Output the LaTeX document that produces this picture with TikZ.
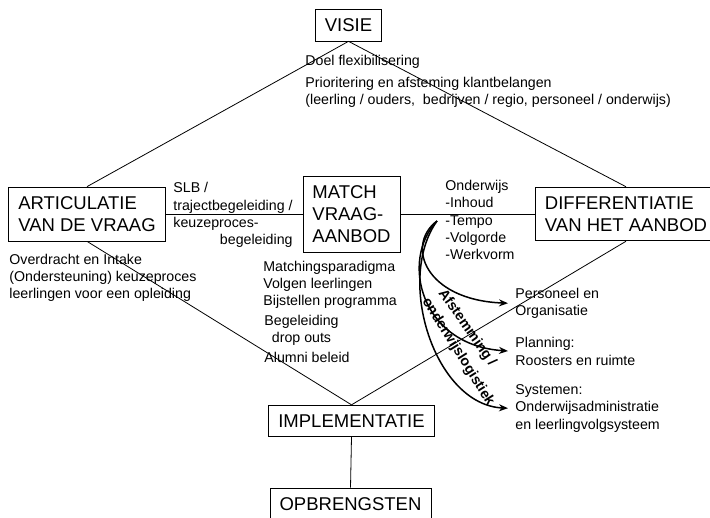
\documentclass[tikz,border=0pt]{standalone}
\usepackage{fontspec}
\setmainfont{Liberation Sans}
\usetikzlibrary{arrows.meta}
\newcommand{\boxFont}{\fontsize{18.5}{22}\selectfont}
\newcommand{\textFont}{\fontsize{14.2}{17.2}\selectfont}
\newcommand{\dikFont}{\fontsize{14.2}{17.2}\selectfont\bfseries}

\begin{document}
\begin{tikzpicture}[x=1pt, y=-1pt, line width=0.8pt]
  \tikzset{kader/.style={draw, font=\boxFont, align=left, inner xsep=9.5pt, inner ysep=9.4pt},
           tekst/.style={font=\textFont, align=left, anchor=west, inner sep=0pt},
           pijl/.style={line width=1.5pt, -{Stealth[length=9pt,width=7pt]}, shorten >=7pt}}
  \useasboundingbox (0,0) rectangle (710,518);
  \node[kader] (visie) at (348.5,25) {VISIE};
  \node[kader] (artic) at (87,214) {ARTICULATIE\\VAN DE VRAAG};
  \node[kader] (match) at (351.5,214) {MATCH\\VRAAG-\\AANBOD};
  \node[kader] (diff) at (626,214) {DIFFERENTIATIE\\VAN HET AANBOD};
  \node[kader] (impl) at (351.5,421) {IMPLEMENTATIE};
  \node[kader] (opbr) at (350.5,504) {OPBRENGSTEN};
  \draw (visie.south) -- (artic.north);
  \draw (visie.south) -- (diff.north);
  \draw (artic.south) -- (impl.north);
  \draw (diff.south) -- (impl.north);
  \draw (artic.east) -- (match.west);
  \draw (match.east) -- (diff.west);
  \draw (impl.south) -- (opbr.north);
  \node[tekst] (doel) at (305,62) {Doel flexibilisering};
  \node[tekst] (prio) at (305,92) {Prioritering en afsteming klantbelangen\\(leerling / ouders,~ bedrijven / regio, personeel / onderwijs)};
  \node[tekst] (slb) at (173,215) {SLB /\\trajectbegeleiding /\\keuzeproces-\\\hspace*{\fill}begeleiding};
  \node[tekst] (intake) at (9,278) {Overdracht en Intake\\(Ondersteuning) keuzeproces\\leerlingen voor een opleiding};
  \node[tekst] (volgen) at (263,285) {Matchingsparadigma\\Volgen leerlingen\\Bijstellen programma};
  \node[tekst, align=center] (dropout) at (264,330) {Begeleiding\\drop outs};
  \node[tekst] (alumni) at (264,357) {Alumni beleid};
  \node[tekst] (onderw) at (445,220) {Onderwijs\\-Inhoud\\-Tempo\\-Volgorde\\-Werkvorm};
  \node[tekst] (pers) at (515,303.5) {Personeel en\\Organisatie};
  \node[tekst] (plan) at (515,351.5) {Planning:\\Roosters en ruimte};
  \node[tekst] (sys) at (515,408.5) {Systemen:\\Onderwijsadministratie\\en leerlingvolgsysteem};
  \coordinate (bron) at (437,221);
  \draw[pijl] (bron) .. controls (405,245) and (425,300) .. (pers.west);
  \draw[pijl] (bron) .. controls (400,260) and (420,345) .. (plan.west);
  \draw[pijl] (bron) .. controls (395,280) and (435,405) .. (sys.west);
  \node[font=\dikFont, rotate=-55] (afst) at (467,328) {Afstemming /};
  \node[font=\dikFont, rotate=-58] (logis) at (458,352) {onderwijslogistiek};
\end{tikzpicture}
\end{document}
